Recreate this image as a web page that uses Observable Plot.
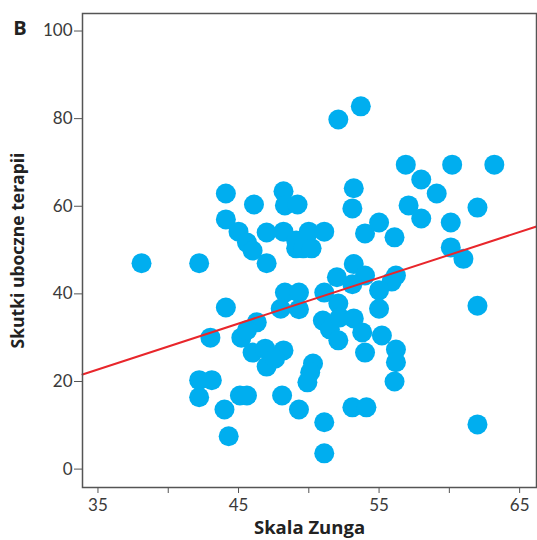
<!DOCTYPE html>
<html>
<head>
<meta charset="utf-8">
<script src="https://cdn.jsdelivr.net/npm/d3@7"></script>
<script src="https://cdn.jsdelivr.net/npm/@observablehq/plot@0.6"></script>
<style>
  html, body { margin: 0; padding: 0; background: #fff; }
  #chart { width: 537px; height: 540px; }
</style>
</head>
<body>
<div id="chart"></div>
<script>
// Scores: Zung scale (x) and side-effect score (y)
const zung = [
  38.1, 42.2, 44.1, 44.1, 45.0, 45.6, 46.0, 46.1, 47.0, 47.0,
  48.2, 48.3, 49.2, 48.2, 49.1, 49.1, 49.6, 50.0, 50.2, 51.1,
  52.1, 53.7, 53.2, 53.1, 54.0, 55.0, 56.1, 56.9, 60.2, 63.2,
  58.0, 59.1, 57.1, 58.0, 62.0, 60.1, 60.1, 61.0, 62.0, 62.0,
  53.2, 52.0, 54.0, 53.1, 56.2, 55.9, 55.0, 55.0, 51.1, 52.1,
  51.0, 51.5, 52.2, 53.2, 52.1, 53.8, 54.0, 55.2, 56.2, 56.2,
  56.1, 53.1, 54.1, 51.1, 51.1, 49.3, 48.1, 50.3, 50.1, 49.9,
  48.3, 49.3, 48.0, 49.3, 44.1, 43.0, 46.3, 45.2, 45.6, 46.0,
  46.9, 48.2, 47.0, 47.6, 42.2, 43.1, 42.2, 45.1, 45.6, 44.0,
  44.3
];
const sideEffects = [
  47.0, 47.0, 62.9, 57.0, 54.2, 51.7, 49.9, 60.4, 54.0, 47.0,
  63.4, 60.2, 60.4, 54.2, 52.2, 50.4, 50.4, 54.2, 50.4, 54.2,
  79.8, 82.8, 64.1, 59.5, 53.8, 56.3, 52.9, 69.5, 69.5, 69.5,
  66.1, 62.9, 60.2, 57.2, 59.7, 56.3, 50.6, 48.0, 37.3, 10.2,
  46.8, 43.8, 44.2, 42.2, 44.2, 42.8, 40.8, 36.6, 40.3, 37.8,
  33.9, 31.9, 34.6, 34.4, 29.4, 31.2, 26.6, 30.5, 27.3, 24.4,
  20.0, 14.1, 14.1, 10.7, 3.6, 13.6, 16.8, 24.1, 22.1, 19.8,
  40.3, 40.3, 36.6, 36.5, 36.9, 30.0, 33.5, 30.0, 31.7, 26.6,
  27.5, 27.1, 23.4, 25.2, 20.3, 20.3, 16.4, 16.8, 16.8, 13.6,
  7.5
];

// Fitted line
const regIntercept = -13.86;
const regSlope = 1.046;

const xDomain = [33.9, 66.2];
const yDomain = [-4.2, 104];
const xTicks = [35, 40, 45, 50, 55, 60, 65];
const xTickLabels = ["35", "", "45", "", "55", "", "65"];
const yTicks = [0, 20, 40, 60, 80, 100];
const yTickLabels = ["0", "20", "40", "60", "80", "100"];

const panelLetter = "B";
const xTitle = "Skala Zunga";
const yTitle = "Skutki uboczne terapii";

const points = zung.map((x, i) => ({x, y: sideEffects[i]}));
const fitLine = xDomain.map(x => ({x, y: regIntercept + regSlope * x}));

const textColor = "#3a3a3a";
const titleFont = "'Open Sans', Lato, sans-serif";

const chart = Plot.plot({
  width: 537,
  height: 540,
  marginLeft: 82,
  marginTop: 13,
  marginRight: 1,
  marginBottom: 53,
  style: {fontFamily: "Lato, 'Open Sans', sans-serif", color: textColor, background: "#fff"},
  x: {domain: xDomain},
  y: {domain: yDomain},
  marks: [
    Plot.dot(points, {x: "x", y: "y", r: 10, fill: "#00aeef", stroke: "none"}),
    Plot.line(fitLine, {x: "x", y: "y", stroke: "#e8262b", strokeWidth: 2}),
    Plot.frame({stroke: "#555", strokeWidth: 1.5}),
    Plot.axisX({
      ticks: xTicks,
      tickFormat: d => xTickLabels[xTicks.indexOf(d)],
      tickSize: 6,
      tickPadding: 5,
      fontSize: 17,
      stroke: "#555",
      label: null
    }),
    Plot.axisY({
      ticks: yTicks,
      tickFormat: d => yTickLabels[yTicks.indexOf(d)],
      tickSize: 8,
      tickPadding: 2,
      fontSize: 17,
      stroke: "#555",
      label: null
    }),
    Plot.text([xTitle], {frameAnchor: "bottom", textAnchor: "middle", lineAnchor: "middle", dy: 41,
      fontFamily: titleFont, fontSize: 18.5, fontWeight: "bold", fill: "#222"}),
    Plot.text([yTitle], {frameAnchor: "left", textAnchor: "middle", lineAnchor: "middle", dx: -64.5, rotate: -90,
      fontFamily: titleFont, fontSize: 17.5, fontWeight: "bold", fill: "#222"}),
    Plot.text([panelLetter], {frameAnchor: "top-left", textAnchor: "middle", lineAnchor: "middle", dx: -62.5, dy: 15,
      fontFamily: titleFont, fontSize: 20, fontWeight: "bold", fill: "#222"})
  ]
});
document.getElementById("chart").appendChild(chart);
</script>
</body>
</html>
